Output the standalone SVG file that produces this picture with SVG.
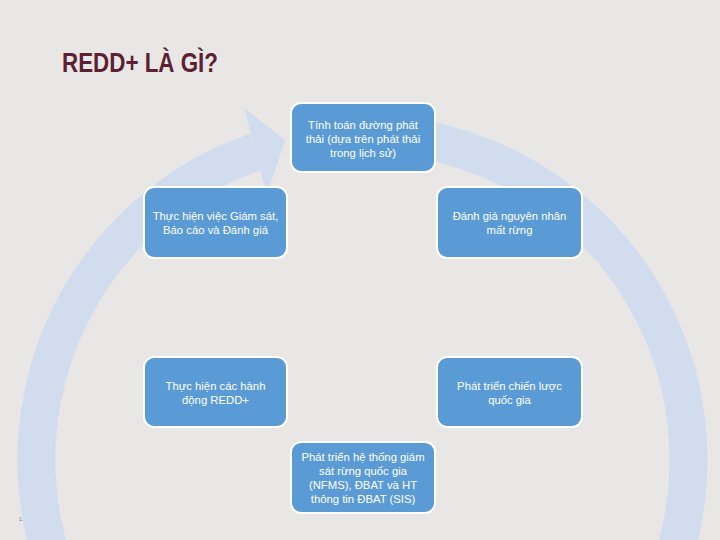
<svg xmlns="http://www.w3.org/2000/svg" width="720" height="540" viewBox="0 0 720 540">
<style>
.bg{fill:#e8e7e5}
.ring{fill:none;stroke:#d1ddef;stroke-width:38}
.head{fill:#d1ddef}
.box{fill:#5b9bd5;stroke:#ffffff;stroke-width:2}
.lbl{font-family:"Liberation Sans",Arial,sans-serif;font-size:11.3px;fill:#ffffff;text-anchor:middle}
.title{font-family:"Liberation Sans",Arial,sans-serif;font-size:27px;font-weight:bold;fill:#5e1f33}
</style>
<rect class="bg" x="0" y="0" width="720" height="540"/>
<text class="title" x="62" y="72" textLength="156" lengthAdjust="spacingAndGlyphs">REDD+ LÀ GÌ?</text>
<g id="connectors">
<path class="ring" d="M 410 137.4 A 326 326 0 1 1 256 151.8"/>
<polygon class="head" points="244,108 285,140 267,195"/>
</g>
<g id="node-top">
<rect class="box" x="291" y="103" width="144" height="69" rx="10"/>
<text class="lbl" x="363" y="129">Tính toán đường phát</text>
<text class="lbl" x="363" y="143">thải (dựa trên phát thải</text>
<text class="lbl" x="363" y="157">trong lịch sử)</text>
</g>
<g id="node-mrv">
<rect class="box" x="144" y="187" width="143" height="71" rx="10"/>
<text class="lbl" x="215.5" y="220">Thực hiện việc Giám sát,</text>
<text class="lbl" x="215.5" y="234">Báo cáo và Đánh giá</text>
</g>
<g id="node-drivers">
<rect class="box" x="437" y="187" width="145" height="71" rx="10"/>
<text class="lbl" x="509.5" y="220">Đánh giá nguyên nhân</text>
<text class="lbl" x="509.5" y="234">mất rừng</text>
</g>
<g id="node-actions">
<rect class="box" x="144" y="357" width="143" height="70" rx="10"/>
<text class="lbl" x="215.5" y="390">Thực hiện các hành</text>
<text class="lbl" x="215.5" y="404">động REDD+</text>
</g>
<g id="node-strategy">
<rect class="box" x="437" y="357" width="145" height="70" rx="10"/>
<text class="lbl" x="509.5" y="390">Phát triển chiến lược</text>
<text class="lbl" x="509.5" y="404">quốc gia</text>
</g>
<g id="node-nfms">
<rect class="box" x="291" y="442" width="144" height="71" rx="10"/>
<text class="lbl" x="363" y="461">Phát triển hệ thống giám</text>
<text class="lbl" x="363" y="475">sát rừng quốc gia</text>
<text class="lbl" x="363" y="489">(NFMS), ĐBAT  và HT</text>
<text class="lbl" x="363" y="503">thông tin ĐBAT  (SIS)</text>
</g>
<text x="19" y="521" style="font-family:'Liberation Sans',Arial,sans-serif;font-size:5px;fill:#777777">1.</text>
</svg>
